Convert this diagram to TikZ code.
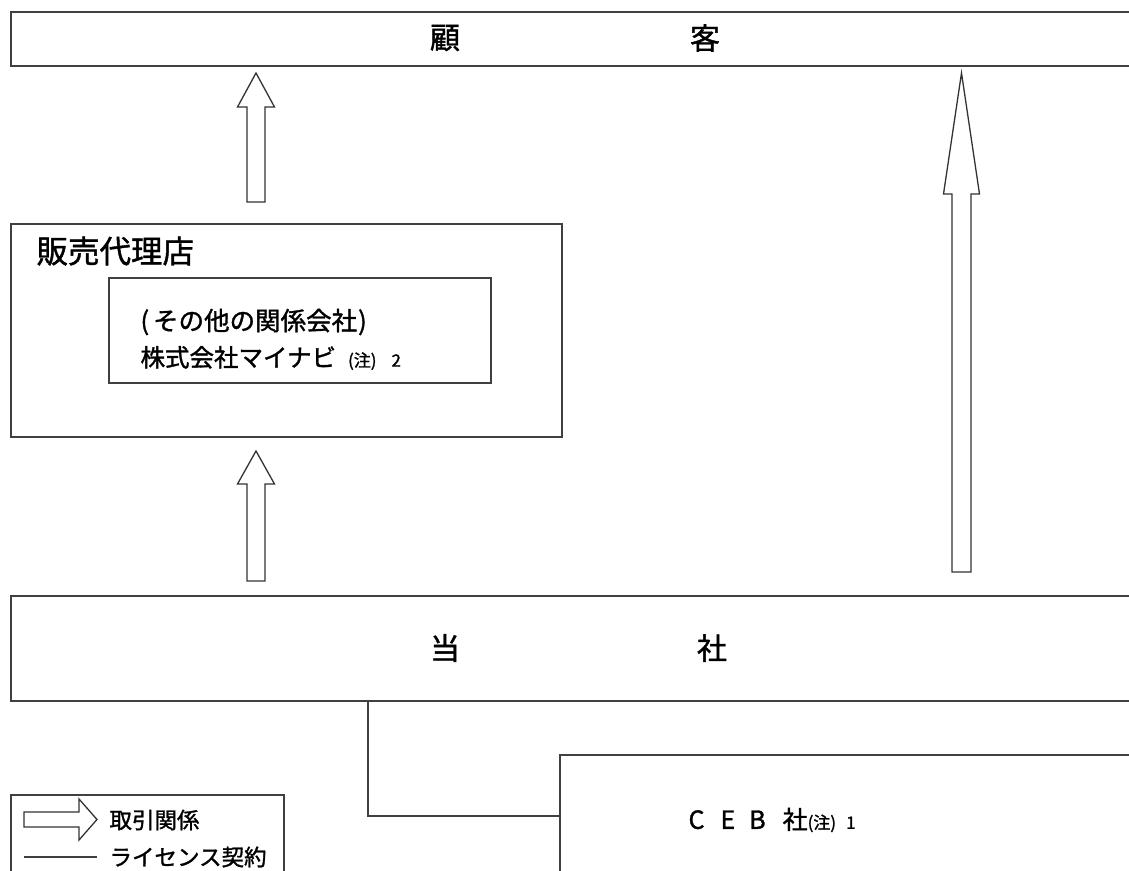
\documentclass[tikz,border=0pt]{standalone}
\usepackage{fontspec}
\setmainfont{Noto Sans CJK JP}[FakeBold=1.3]
\usetikzlibrary{positioning}

% hollow block arrow pointing up: x, tip y, head base y, tail y, half shaft, half head
\newcommand{\blockup}[6]{%
  \draw[flow] (#1-#5,#4) -- (#1-#5,#3) -- (#1-#6,#3) -- (#1,#2)
    -- (#1+#6,#3) -- (#1+#5,#3) -- (#1+#5,#4) -- cycle;}

\begin{document}
\begin{tikzpicture}[x=1pt,y=-1pt,
    box/.style={draw=black!75,line width=1.6pt,rectangle,anchor=north west,inner sep=0pt},
    flow/.style={draw=black!80,line width=1.3pt,fill=white,line join=miter},
    license/.style={draw=black!75,line width=1.6pt},
    big/.style={font=\fontsize{30}{32}\selectfont},
    mid/.style={font=\fontsize{25.5}{28}\selectfont},
    small/.style={font=\fontsize{22.5}{26}\selectfont}
  ]
  \useasboundingbox (0,0) rectangle (1129,870);
  \clip (0,0) rectangle (1129,870);

  % boxes
  \node [box, minimum width=1140pt, minimum height=54pt] (kokyaku) at (10,11) {};
  \node [box, minimum width=551pt, minimum height=213pt] (dairiten) at (10,223) {};
  \node [box, minimum width=382pt, minimum height=105pt] (mynavi) at (108,277) {};
  \node [box, minimum width=1140pt, minimum height=105pt] (tosha) at (10,595) {};
  \node [box, minimum width=600pt, minimum height=150pt] (ceb) at (559,754) {};
  \node [box, minimum width=273pt, minimum height=100pt] (legend) at (10,794) {};

  % texts
  \node [big] (t-ko) at (445,38) {顧};
  \node [big] (t-kyaku) at (705,38) {客};
  \node [big, anchor=west, font=\fontsize{31.5}{34}\selectfont] (t-dairi) at (33,251) {販売代理店};
  \node [mid, anchor=west] (t-sono) at (137,322) {(\hspace{4pt}その他の関係会社\hspace{1pt})};
  \node [mid, anchor=west, font=\fontsize{24.5}{28}\selectfont] (t-mynavi) at (137,358)
    {株式会社マイナビ\hspace{12pt}{\fontsize{17}{18}\selectfont(注)\hspace{15pt}2}};
  \node [big] (t-to) at (445,648) {当};
  \node [big] (t-sha) at (712,648) {社};
  \node [mid, anchor=west, font=\fontsize{25}{28}\selectfont] (t-ceb) at (685,820)
    {C\hspace{16pt}E\hspace{14pt}B\hspace{17pt}社{\fontsize{17}{18}\selectfont(注)\hspace{10pt}1}};

  % trade arrows
  \blockup{256}{73}{107}{202}{9}{18.5}
  \blockup{256}{451}{484}{581}{9}{18.5}
  \blockup{961.5}{73}{194}{572}{9.5}{18}

  % license contract
  \draw [license] ([xshift=358pt]tosha.south west) |- ([yshift=-62pt]ceb.north west);

  % legend
  \draw [flow] (24,812) -- (79,812) -- (79,799) -- (97,819.5) -- (79,840)
    -- (79,827) -- (24,827) -- cycle;
  \node [small, anchor=west] (l-trade) at (106,820) {取引関係};
  \draw [license] (24,857) -- (97,857);
  \node [small, anchor=west] (l-license) at (106,857) {ライセンス契約};
\end{tikzpicture}
\end{document}
